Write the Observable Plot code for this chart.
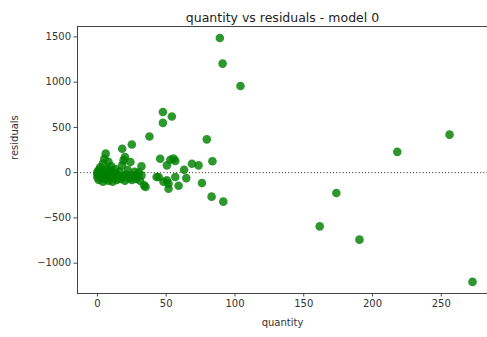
<!DOCTYPE html>
<html>
<head>
<meta charset="utf-8">
<script src="https://cdn.jsdelivr.net/npm/d3@7"></script>
<script src="https://cdn.jsdelivr.net/npm/@observablehq/plot@0.6"></script>
<style>
  html, body { margin: 0; padding: 0; background: #fff; }
</style>
</head>
<body>
<div id="chart"></div>
<script>
const titleText = "quantity vs residuals - model 0";
const xLabel = "quantity";
const yLabel = "residuals";
const xTicks = [0, 50, 100, 150, 200, 250];
const yTicks = [-1000, -500, 0, 500, 1000, 1500];

const quantity = [
  0, 0, 0, 1, 1, 2, 2, 3, 3, 4, 4, 5, 5, 5, 6, 6, 7, 7, 8, 8,
  9, 9, 10, 10, 11, 12, 12, 13, 14, 15, 16, 17, 18, 18, 19, 19, 20, 20, 21, 22,
  23, 24, 25, 25, 26, 27, 28, 29, 30, 31, 32, 32, 34, 35, 37.8, 43, 44.5, 45.6, 47.6, 47.6,
  48, 50.5, 50.5, 51.7, 51.7, 53, 54.1, 55.3, 56.6, 56.6, 59, 63, 64.6, 68.7, 73.5, 76, 79.5, 83.6, 83, 91.5,
  89, 91, 104, 161.6, 173.7, 190.5, 218, 256, 272.7
];
const residuals = [
  -20, 10, -50, 30, -80, -30, 60, 0, -60, 100, -100, 20, -40, 154, 210, -70, 40, -10, 120, -90,
  25, -50, 70, -20, -100, 0, -60, 40, -80, -30, 10, -70, 81, 265, 136, -40, 172, -90, -20, 30,
  -60, 117, 312, -80, -30, 10, -70, -40, 0, -90, 70, -30, -140, -159, 400, -48, -48, 154, 670, 550,
  -100, 81, -85, -121, -177, 143, 620, 155, 130, -48, -145, 33, -60, 99, 81, -115, 368, 126, -265, -320,
  1488, 1205, 958, -593, -225, -740, 230, 420, -1207
];

const data = quantity.map((q, i) => ({q, r: residuals[i]}));
const fmt = d => d < 0 ? "\u2212" + Math.abs(d) : String(d);
const spine = "#444";

const chart = Plot.plot({
  width: 487,
  height: 337,
  marginLeft: 77,
  marginRight: 0,
  marginTop: 26,
  marginBottom: 44,
  x: {domain: [-14.5, 283.6]},
  y: {domain: [-1335, 1615]},
  style: {fontFamily: "DejaVu Sans", fontSize: "10px", color: "#333", background: "#fff"},
  marks: [
    Plot.ruleY([0], {stroke: "#222", strokeWidth: 1, strokeDasharray: "1,2.2"}),
    Plot.dot(data, {x: "q", y: "r", r: 4.3, fill: "green", fillOpacity: 0.82, stroke: "none"}),
    Plot.axisX({ticks: xTicks, tickFormat: fmt, tickSize: 3.5, tickPadding: 3, stroke: spine, label: null, fill: "#333"}),
    Plot.axisY({ticks: yTicks, tickFormat: fmt, tickSize: 3.5, tickPadding: 3, stroke: spine, label: null, fill: "#333"}),
    Plot.frame({anchor: "left", stroke: spine}),
    Plot.frame({anchor: "bottom", stroke: spine}),
    Plot.frame({anchor: "top", stroke: spine}),
    Plot.text([titleText], {frameAnchor: "top", dy: -13, fontSize: 12.5, fill: "#222"}),
    Plot.text([xLabel], {frameAnchor: "bottom", dy: 32, fontSize: 10, fill: "#333"}),
    Plot.text([yLabel], {frameAnchor: "left", dx: -63, rotate: -90, fontSize: 10, fill: "#333"})
  ]
});
document.getElementById("chart").appendChild(chart);
</script>
</body>
</html>
